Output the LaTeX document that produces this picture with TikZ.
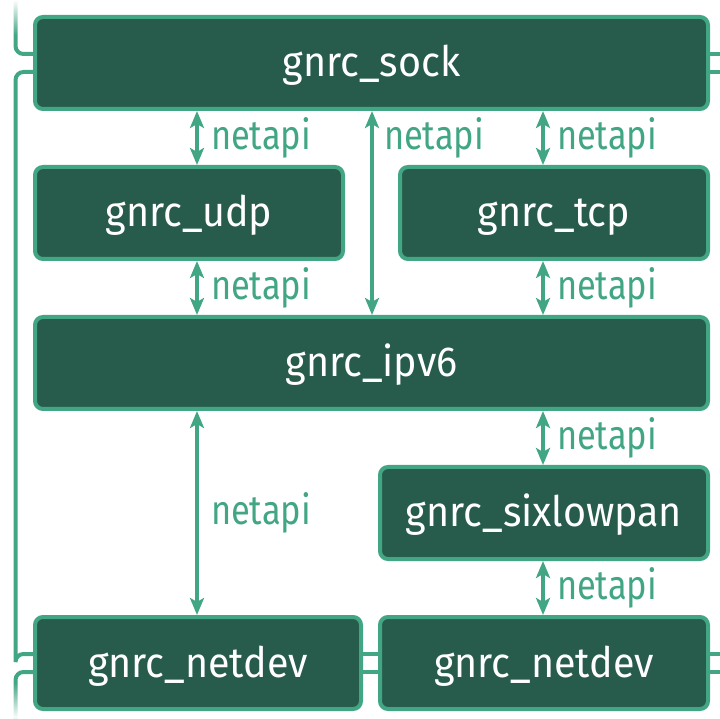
\documentclass[tikz,border=0pt]{standalone}
\usepackage{fontspec}
\setmainfont[FakeStretch=0.94]{Fira Sans}
\newfontfamily\apifont[FakeStretch=0.84]{Fira Sans}
\usetikzlibrary{arrows.meta,fadings}
\definecolor{boxfill}{HTML}{275B4B}
\definecolor{boxline}{HTML}{42A685}
\tikzset{
  module/.style={draw=boxline, line width=4pt, fill=boxfill, rounded corners=8pt,
    minimum height=92pt, inner sep=0pt, text height=28pt, text depth=0pt,
    text=white, font=\fontsize{42}{42}\selectfont},
  api/.style={draw=boxline, line width=4pt,
    {Stealth[length=17pt,width=14pt,inset=4pt]}-{Stealth[length=17pt,width=14pt,inset=4pt]}},
  apilabel/.style={text=boxline, anchor=mid west, inner sep=0pt, yshift=-9pt,
    font=\apifont\fontsize{41}{41}\selectfont},
  wire/.style={draw=boxline, line width=4pt, rounded corners=8pt},
}
\begin{document}
\begin{tikzpicture}[x=1pt,y=1pt]
\useasboundingbox (0,0) rectangle (720,718);
% protocol modules
\node[module, minimum width=673pt] (sock) at (371.5,655) {gnrc\_sock};
\node[module, minimum width=308pt] (udp) at (189,505) {gnrc\_udp};
\node[module, minimum width=308pt] (tcp) at (554,505) {gnrc\_tcp};
\node[module, minimum width=673pt] (ipv6) at (371.5,355) {gnrc\_ipv6};
\node[module, minimum width=328pt] (sixlowpan) at (544,205) {gnrc\_sixlowpan};
\node[module, minimum width=326pt] (netdev1) at (198,55) {gnrc\_netdev};
\node[module, minimum width=328pt] (netdev2) at (544,55) {gnrc\_netdev};
% columns of the netapi arrows and the side bus
\coordinate (xa) at (197,0);
\coordinate (xb) at (372,0);
\coordinate (xc) at (543,0);
\coordinate (lx) at (15.5,0);
\coordinate (topend) at (15.5,718);
\coordinate (botend) at (15.5,0);
\coordinate (rx) at (720,0);
% netapi interfaces
\draw[api] (sock.south -| xa) -- node[apilabel, xshift=12pt] {netapi} (udp.north -| xa);
\draw[api] (udp.south -| xa) -- node[apilabel, xshift=12pt] {netapi} (ipv6.north -| xa);
\draw[api] (sock.south -| xb) -- node[apilabel, pos=0.13, xshift=10pt] {netapi} (ipv6.north -| xb);
\draw[api] (sock.south -| xc) -- node[apilabel, xshift=12pt] {netapi} (tcp.north -| xc);
\draw[api] (tcp.south -| xc) -- node[apilabel, xshift=12pt] {netapi} (ipv6.north -| xc);
\draw[api] (ipv6.south -| xc) -- node[apilabel, xshift=12pt] {netapi} (sixlowpan.north -| xc);
\draw[api] (sixlowpan.south -| xc) -- node[apilabel, xshift=12pt] {netapi} (netdev2.north -| xc);
\draw[api] (ipv6.south -| xa) -- node[apilabel, xshift=12pt] {netapi} (netdev1.north -| xa);
% left bus
\draw[wire] (topend) |- ([yshift=9pt]sock.west);
\draw[wire] ([yshift=-9pt]sock.west) -| (lx |- netdev1.west) |- ([yshift=9pt]netdev1.west);
\draw[wire] ([yshift=-9pt]netdev1.west) -| (botend);
% right bus
\draw[wire] ([yshift=9pt]sock.east) -- ([yshift=9pt]sock.east -| rx);
\draw[wire] ([yshift=-9pt]sock.east) -- ([yshift=-9pt]sock.east -| rx);
\draw[wire] ([yshift=9pt]netdev1.east) -- ([yshift=9pt]netdev2.west);
\draw[wire] ([yshift=-9pt]netdev1.east) -- ([yshift=-9pt]netdev2.west);
\draw[wire] ([yshift=9pt]netdev2.east) -- ([yshift=9pt]netdev2.east -| rx);
\draw[wire] ([yshift=-9pt]netdev2.east) -- ([yshift=-9pt]netdev2.east -| rx);
% bus ends fade out at the picture edge
\fill[white, path fading=south] (0,683) rectangle (30,718);
\fill[white, path fading=north] (0,0) rectangle (30,35);
\end{tikzpicture}
\end{document}
